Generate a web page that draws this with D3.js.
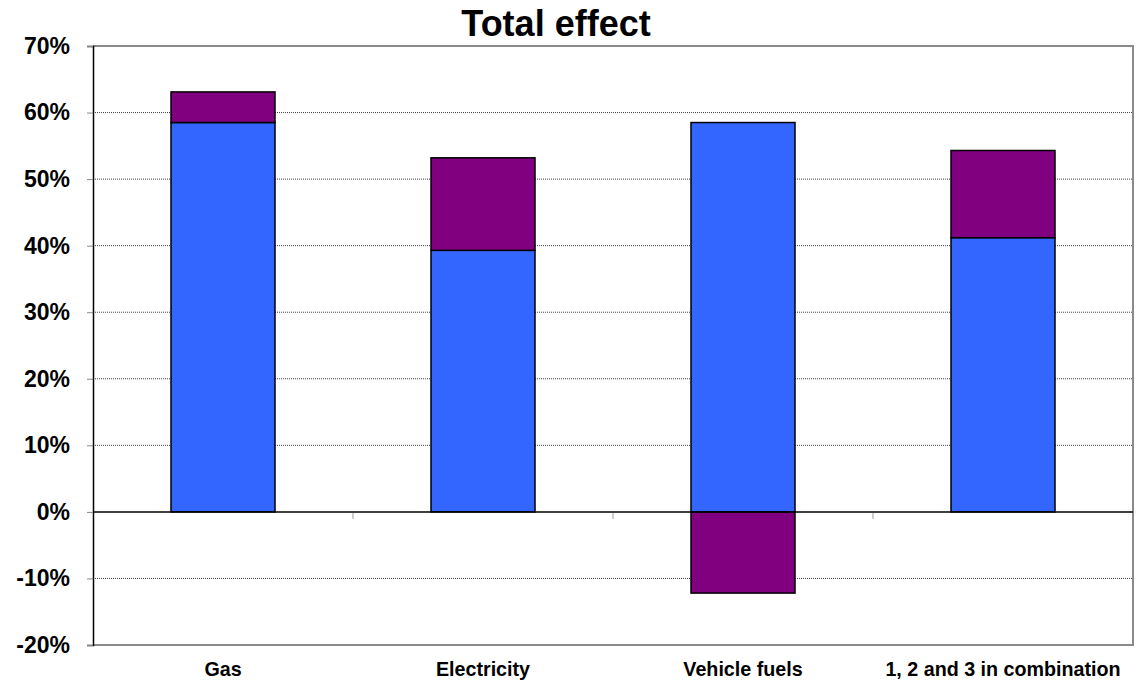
<!DOCTYPE html>
<html>
<head>
<meta charset="utf-8">
<script src="https://cdn.jsdelivr.net/npm/d3@7"></script>
<style>
  html, body { margin: 0; padding: 0; background: #fff; }
  svg { display: block; font-family: "Liberation Sans", Arial, sans-serif; }
</style>
</head>
<body>
<svg id="chart" width="1136" height="686"></svg>
<script>
// Categories and the two stacked components (fractions)
const categories = ["Gas", "Electricity", "Vehicle fuels", "1, 2 and 3 in combination"];
const baseEffect = [0.585, 0.393, 0.585, 0.412];
const extraEffect = [0.046, 0.139, -0.122, 0.131];
const yTicks = [-0.2, -0.1, 0, 0.1, 0.2, 0.3, 0.4, 0.5, 0.6, 0.7];
const title = "Total effect";

const svg = d3.select("#chart");
const plotLeft = 93, plotRight = 1133, plotTop = 46, plotBottom = 645;

const x = d3.scaleBand().domain(categories).range([plotLeft, plotRight]).paddingInner(0).paddingOuter(0);
const y = d3.scaleLinear().domain([-0.2, 0.7]).range([plotBottom, plotTop]);
const barW = x.bandwidth() * 0.4;

// Horizontal gridlines (dotted)
svg.append("g")
  .selectAll("line")
  .data(yTicks.filter(d => d !== 0 && d !== -0.2 && d !== 0.7))
  .join("line")
  .attr("x1", plotLeft).attr("x2", plotRight)
  .attr("y1", d => y(d)).attr("y2", d => y(d))
  .attr("stroke", "#444")
  .attr("stroke-width", 1)
  .attr("stroke-dasharray", "1,1");

// Plot frame: top, right and bottom edges in gray
svg.append("path")
  .attr("d", `M${plotLeft},${y(0.7)}H${plotRight}V${y(-0.2)}H${plotLeft}`)
  .attr("fill", "none")
  .attr("stroke", "#8a8a8a")
  .attr("stroke-width", 2);

// Stacked bars: positive parts stack on top, negative parts hang below zero
const stackedRows = categories.map((c, i) => {
  const b = baseEffect[i], e = extraEffect[i];
  const baseSeg = b >= 0 ? [0, b] : [b, 0];
  let extraSeg;
  if (e >= 0) extraSeg = b >= 0 ? [b, b + e] : [0, e];
  else extraSeg = b >= 0 ? [e, 0] : [b + e, b];
  return { c, baseSeg, extraSeg };
});

const bars = svg.append("g");
bars.selectAll("rect.base")
  .data(stackedRows)
  .join("rect")
  .attr("class", "base")
  .attr("x", d => x(d.c) + (x.bandwidth() - barW) / 2)
  .attr("width", barW)
  .attr("y", d => y(d.baseSeg[1]))
  .attr("height", d => y(d.baseSeg[0]) - y(d.baseSeg[1]))
  .attr("fill", "#3366ff")
  .attr("stroke", "#000")
  .attr("stroke-width", 1.5);

bars.selectAll("rect.extra")
  .data(stackedRows)
  .join("rect")
  .attr("class", "extra")
  .attr("x", d => x(d.c) + (x.bandwidth() - barW) / 2)
  .attr("width", barW)
  .attr("y", d => y(d.extraSeg[1]))
  .attr("height", d => y(d.extraSeg[0]) - y(d.extraSeg[1]))
  .attr("fill", "#800080")
  .attr("stroke", "#000")
  .attr("stroke-width", 1.5);

// Zero line
svg.append("line")
  .attr("x1", plotLeft).attr("x2", plotRight)
  .attr("y1", y(0)).attr("y2", y(0))
  .attr("stroke", "#000").attr("stroke-width", 1.5);

// Category separator ticks under the zero line
svg.append("g")
  .selectAll("line")
  .data(categories.slice(1))
  .join("line")
  .attr("x1", d => x(d)).attr("x2", d => x(d))
  .attr("y1", y(0) + 1).attr("y2", y(0) + 7)
  .attr("stroke", "#999").attr("stroke-width", 1);

// Y axis
const yAxis = svg.append("g")
  .attr("transform", `translate(${plotLeft},0)`)
  .call(d3.axisLeft(y).tickValues(yTicks).tickSize(6).tickPadding(17).tickFormat(d3.format(".0%")));
yAxis.select(".domain").attr("stroke", "#000").attr("stroke-width", 1.5);
yAxis.selectAll(".tick line").attr("stroke", "#888");
yAxis.selectAll("text")
  .attr("font-size", 23).attr("font-weight", "bold").attr("fill", "#000")
  .attr("font-family", "Liberation Sans, Arial, sans-serif")
  .text(d => d3.format(".0%")(d).replace("−", "-"));

// Category labels
svg.append("g")
  .selectAll("text")
  .data(categories)
  .join("text")
  .attr("x", d => x(d) + x.bandwidth() / 2)
  .attr("y", 676)
  .attr("text-anchor", "middle")
  .attr("font-size", 19.7)
  .attr("font-weight", "bold")
  .text(d => d);

// Title
svg.append("text")
  .attr("x", 556)
  .attr("y", 36)
  .attr("text-anchor", "middle")
  .attr("font-size", 36)
  .attr("font-weight", "bold")
  .text(title);
</script>
</body>
</html>
